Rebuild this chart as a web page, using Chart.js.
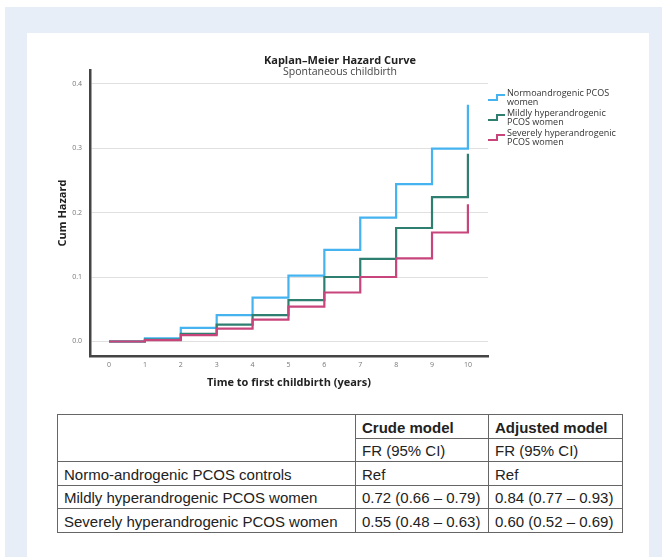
<!DOCTYPE html>
<html>
<head>
<meta charset="utf-8">
<script src="https://cdn.jsdelivr.net/npm/chart.js@4"></script>
<style>
  html, body { margin: 0; padding: 0; background: #fff; }
  body { width: 662px; height: 557px; position: relative; overflow: hidden; }
  .frame { position: absolute; left: 5px; top: 7px; right: 0; bottom: -20px; background: #e7eef8; }
  .panel { position: absolute; left: 27px; top: 33px; width: 622px; bottom: -20px; background: #fff; }
  #chartWrap { position: absolute; left: 0; top: 0; width: 662px; height: 400px; }
  table.fr {
    position: absolute; left: 57px; top: 414px; width: 566px;
    border-collapse: collapse; font-family: "Liberation Sans", Arial, sans-serif;
    font-size: 15px; color: #222;
  }
  table.fr tr { height: 23.5px; }
  table.fr td { border: 1.5px solid #666; padding: 0 6px 1px 6px; vertical-align: bottom; white-space: nowrap; line-height: 18px; }
  table.fr td.h { font-weight: bold; }
</style>
</head>
<body>
<div class="frame"></div>
<div class="panel"></div>
<div id="chartWrap"><canvas id="kmChart" width="662" height="400"></canvas></div>
<table class="fr" id="frTable"></table>
<script>
const years = [0, 1, 2, 3, 4, 5, 6, 7, 8, 9, 10];
const normoHazard = [0, 0.005, 0.021, 0.041, 0.068, 0.102, 0.142, 0.192, 0.244, 0.299, 0.367];
const mildHazard = [0, 0.003, 0.012, 0.026, 0.041, 0.064, 0.100, 0.128, 0.176, 0.224, 0.291];
const severeHazard = [0, 0.002, 0.010, 0.020, 0.034, 0.054, 0.076, 0.100, 0.129, 0.169, 0.213];
const yTicks = [0, 0.1, 0.2, 0.3, 0.4];

const groupNames = ['Normoandrogenic PCOS women', 'Mildly hyperandrogenic PCOS women', 'Severely hyperandrogenic PCOS women'];
const legendLines = [['Normoandrogenic PCOS', 'women'], ['Mildly hyperandrogenic', 'PCOS women'], ['Severely hyperandrogenic', 'PCOS women']];
const groupColors = ['#45b3ef', '#2f7f71', '#c8457c'];

const tableGroups = ['Normo-androgenic PCOS controls', 'Mildly hyperandrogenic PCOS women', 'Severely hyperandrogenic PCOS women'];
const crudeModel = ['Ref', '0.72 (0.66 \u2013 0.79)', '0.55 (0.48 \u2013 0.63)'];
const adjustedModel = ['Ref', '0.84 (0.77 \u2013 0.93)', '0.60 (0.52 \u2013 0.69)'];

const FONT = '"Open Sans", sans-serif';

function toPoints(values) {
  return values.map((v, i) => ({ x: years[i], y: v }));
}

// title + legend drawn straight on the canvas
const decorPlugin = {
  id: 'decor',
  afterDraw(chart) {
    const ctx = chart.ctx;
    ctx.save();
    ctx.textAlign = 'center';
    ctx.textBaseline = 'middle';
    ctx.fillStyle = '#222';
    ctx.font = 'bold 11px ' + FONT;
    ctx.fillText('Kaplan\u2013Meier Hazard Curve', 340, 61);
    ctx.fillStyle = '#444';
    ctx.font = '10.5px ' + FONT;
    ctx.fillText('Spontaneous childbirth', 340, 72);

    ctx.textAlign = 'left';
    ctx.font = '9px ' + FONT;
    legendLines.forEach((lines, i) => {
      const cy = 97.5 + i * 20;
      ctx.strokeStyle = groupColors[i];
      ctx.lineWidth = 2;
      ctx.beginPath();
      ctx.moveTo(488, cy + 2.5);
      ctx.lineTo(497, cy + 2.5);
      ctx.lineTo(497, cy - 2.5);
      ctx.lineTo(505, cy - 2.5);
      ctx.stroke();
      ctx.fillStyle = '#333';
      ctx.fillText(lines[0], 507, cy - 4.5);
      ctx.fillText(lines[1], 507, cy + 4.5);
    });
    ctx.restore();
  }
};

const ctx = document.getElementById('kmChart').getContext('2d');
new Chart(ctx, {
  type: 'line',
  data: {
    datasets: [normoHazard, mildHazard, severeHazard].map((vals, i) => ({
      label: groupNames[i],
      data: toPoints(vals),
      borderColor: groupColors[i],
      borderWidth: 2.2,
      stepped: 'before',
      pointRadius: 0,
      fill: false,
      order: 3 - i
    }))
  },
  options: {
    responsive: false,
    animation: false,
    layout: { padding: { left: 40, top: 70, right: 174, bottom: 0 } },
    plugins: {
      legend: { display: false },
      title: { display: false },
      tooltip: { enabled: false }
    },
    scales: {
      x: {
        type: 'linear',
        min: -0.53,
        max: 10.56,
        afterBuildTicks: (scale) => { scale.ticks = years.map(v => ({ value: v })); },
        afterFit: (scale) => { scale.height = 44; },
        grid: { display: false, drawTicks: false },
        border: { display: true, color: '#444', width: 2.5 },
        ticks: {
          padding: 5,
          color: '#777',
          font: { family: FONT, size: 7 },
          callback: (v) => String(v)
        },
        title: {
          display: true,
          text: 'Time to first childbirth (years)',
          color: '#222',
          font: { family: FONT, size: 11, weight: 'bold' },
          padding: { top: 0, bottom: 11 }
        }
      },
      y: {
        min: -0.0225,
        max: 0.421,
        afterBuildTicks: (scale) => { scale.ticks = yTicks.map(v => ({ value: v })); },
        afterFit: (scale) => { scale.width = 50; },
        grid: { color: '#e0e0e0', lineWidth: 1, drawTicks: false },
        border: { display: true, color: '#444', width: 2.5 },
        ticks: {
          padding: 8,
          color: '#777',
          font: { family: FONT, size: 7 },
          callback: (v) => v.toFixed(1)
        },
        title: {
          display: true,
          text: 'Cum Hazard',
          color: '#222',
          font: { family: FONT, size: 11, weight: 'bold' },
          padding: { top: 16, bottom: 0 }
        }
      }
    }
  },
  plugins: [decorPlugin]
});

// results table
const table = document.getElementById('frTable');
let html = '<tr><td rowspan="2" style="width:285px"></td><td class="h" style="width:120px">Crude model</td><td class="h">Adjusted model</td></tr>';
html += '<tr><td>FR (95% CI)</td><td>FR (95% CI)</td></tr>';
tableGroups.forEach((g, i) => {
  html += '<tr><td>' + g + '</td><td>' + crudeModel[i] + '</td><td>' + adjustedModel[i] + '</td></tr>';
});
table.innerHTML = html;
</script>
</body>
</html>
